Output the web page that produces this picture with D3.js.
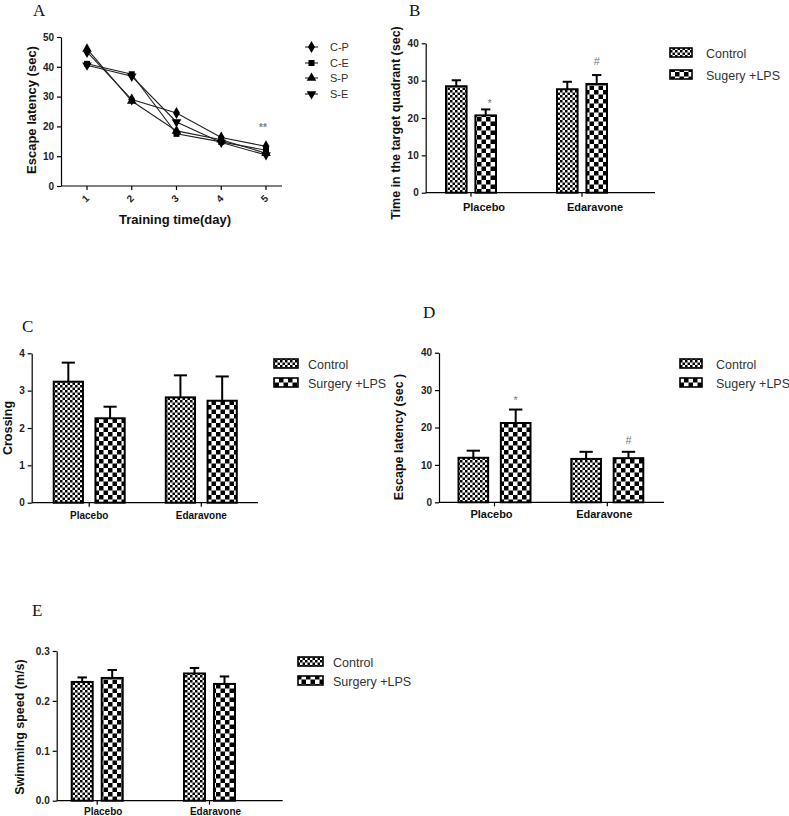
<!DOCTYPE html>
<html><head><meta charset="utf-8">
<script src="https://cdn.jsdelivr.net/npm/d3@7"></script>
<style>body{margin:0;background:#fff;} svg{display:block;}</style>
</head><body>
<svg id="c" width="789" height="816"></svg>
<script>
// ---------- Panel A data ----------
const days = [1, 2, 3, 4, 5];
const aYTicks = [0, 10, 20, 30, 40, 50];
const seriesA = ["C-P", "C-E", "S-P", "S-E"];
const cpVals = [45, 29, 24.5, 16.3, 13.3];
const ceVals = [41, 37.5, 17.5, 14.8, 12];
const spVals = [46, 28.5, 18.5, 15.5, 11];
const seVals = [40.5, 36.8, 21.5, 14.6, 10.4];

// ---------- Bar panels data ----------
const groups = ["Placebo", "Edaravone"];
const barSeries = ["Control", "Surgery"];

const bTicks = [0, 10, 20, 30, 40];
const bControl = [28.5, 27.7];
const bSurgery = [20.7, 29.1];
const bControlErr = [30.1, 29.7];
const bSurgeryErr = [22.3, 31.5];

const cTicks = [0, 1, 2, 3, 4];
const cControl = [3.24, 2.82];
const cSurgery = [2.26, 2.73];
const cControlErr = [3.75, 3.41];
const cSurgeryErr = [2.57, 3.38];

const dTicks = [0, 10, 20, 30, 40];
const dControl = [11.9, 11.6];
const dSurgery = [21.2, 11.8];
const dControlErr = [13.8, 13.5];
const dSurgeryErr = [24.8, 13.5];

const eTicks = [0, 0.1, 0.2, 0.3];
const eControl = [0.238, 0.255];
const eSurgery = [0.246, 0.234];
const eControlErr = [0.247, 0.266];
const eSurgeryErr = [0.262, 0.249];

const svg = d3.select("#c");
const FONT = "Liberation Sans, Arial, sans-serif";
const SERIF = "Liberation Serif, Times New Roman, serif";

// patterns
const defs = svg.append("defs");
function checker(id, cell) {
  const p = defs.append("pattern").attr("id", id).attr("patternUnits", "userSpaceOnUse")
    .attr("width", cell * 2).attr("height", cell * 2);
  p.append("rect").attr("width", cell * 2).attr("height", cell * 2).attr("fill", "#fff");
  p.append("rect").attr("width", cell).attr("height", cell).attr("fill", "#000");
  p.append("rect").attr("x", cell).attr("y", cell).attr("width", cell).attr("height", cell).attr("fill", "#000");
}
checker("fine", 2.5);
checker("coarse", 4.5);
const fills = ["url(#fine)", "url(#coarse)"];

function letter(t, x, y) {
  svg.append("text").attr("x", x).attr("y", y).attr("font-family", SERIF)
    .attr("font-size", 17).attr("fill", "#111").text(t);
}
function yLabel(t, x, y, size) {
  svg.append("text").attr("transform", `translate(${x},${y}) rotate(-90)`)
    .attr("text-anchor", "middle").attr("font-family", FONT).attr("font-weight", "bold")
    .attr("font-size", size).attr("fill", "#111").text(t);
}
function styleAxis(g) {
  g.select(".domain").attr("stroke", "#000").attr("stroke-width", 1.2);
  g.selectAll(".tick line").attr("stroke", "#000").attr("stroke-width", 1.2);
  g.selectAll(".tick text").attr("font-family", FONT).attr("font-weight", "bold")
    .attr("font-size", 10).attr("fill", "#222");
}

// ---------- Panel A ----------
(function () {
  const x = d3.scaleLinear().domain([1, 5]).range([87, 266]);
  const y = d3.scaleLinear().domain([0, 50]).range([186, 37]);
  const gy = svg.append("g").attr("transform", "translate(61,0)")
    .call(d3.axisLeft(y).tickValues(aYTicks).tickSize(4).tickSizeOuter(0).tickPadding(3));
  styleAxis(gy);
  svg.append("line").attr("x1", 61).attr("x2", 282).attr("y1", 186).attr("y2", 186)
    .attr("stroke", "#000").attr("stroke-width", 1.2);
  const gx = svg.append("g");
  days.forEach(d => {
    gx.append("line").attr("x1", x(d)).attr("x2", x(d)).attr("y1", 186).attr("y2", 190)
      .attr("stroke", "#000").attr("stroke-width", 1.2);
    gx.append("text").attr("transform", `translate(${x(d) + 1},${201}) rotate(-45)`)
      .attr("text-anchor", "middle").attr("font-family", FONT).attr("font-weight", "bold")
      .attr("font-size", 10).attr("fill", "#222").text(d);
  });
  const vals = [cpVals, ceVals, spVals, seVals];
  const syms = [d3.symbolDiamond, d3.symbolSquare, d3.symbolTriangle, d3.symbolTriangle];
  const rots = [0, 0, 0, 180];
  const sizes = [42, 36, 40, 40];
  const line = d3.line().x((v, i) => x(days[i])).y(v => y(v));
  vals.forEach((vs, k) => {
    svg.append("path").attr("d", line(vs)).attr("fill", "none").attr("stroke", "#222").attr("stroke-width", 1.1);
  });
  vals.forEach((vs, k) => {
    vs.forEach((v, i) => {
      svg.append("path").attr("d", d3.symbol().type(syms[k]).size(sizes[k])())
        .attr("transform", `translate(${x(days[i])},${y(v)}) rotate(${rots[k]})`).attr("fill", "#000");
    });
  });
  svg.append("text").attr("x", x(5) - 3).attr("y", y(20) + 5).attr("text-anchor", "middle")
    .attr("font-family", FONT).attr("font-size", 10).attr("font-weight", "bold").attr("fill", "#8a8070").text("**");
  // legend
  const ly = [47, 63, 78, 94];
  seriesA.forEach((s, k) => {
    svg.append("line").attr("x1", 305).attr("x2", 318).attr("y1", ly[k]).attr("y2", ly[k]).attr("stroke", "#222").attr("stroke-width", 1.1);
    svg.append("path").attr("d", d3.symbol().type(syms[k]).size(sizes[k])())
      .attr("transform", `translate(311.5,${ly[k]}) rotate(${rots[k]})`).attr("fill", "#000");
    svg.append("text").attr("x", 330).attr("y", ly[k] + 4).attr("font-family", FONT)
      .attr("font-size", 11).attr("fill", "#333").text(s);
  });
  yLabel("Escape latency  (sec)", 36, 110, 13);
  svg.append("text").attr("x", 175).attr("y", 224).attr("text-anchor", "middle").attr("font-family", FONT)
    .attr("font-weight", "bold").attr("font-size", 13).attr("fill", "#111").text("Training time(day)");
  letter("A", 33, 16);
})();

// ---------- Bar panels ----------
function barPanel(o) {
  const y = d3.scaleLinear().domain([0, o.max]).range([o.y0, o.yTop]);
  const xg = d3.scalePoint().domain(groups).range(o.centers);
  const xi = d3.scaleBand().domain(barSeries).range([-o.half, o.half]).paddingInner(0.3);
  const gy = svg.append("g").attr("transform", `translate(${o.x0},0)`)
    .call(d3.axisLeft(y).tickValues(o.ticks).tickSize(4).tickSizeOuter(0).tickPadding(3).tickFormat(o.fmt));
  styleAxis(gy);
  svg.append("line").attr("x1", o.x0).attr("x2", o.xEnd).attr("y1", o.y0).attr("y2", o.y0)
    .attr("stroke", "#000").attr("stroke-width", 1.2);
  groups.forEach(g => {
    svg.append("line").attr("x1", xg(g)).attr("x2", xg(g)).attr("y1", o.y0).attr("y2", o.y0 + 4)
      .attr("stroke", "#000").attr("stroke-width", 1.2);
    svg.append("text").attr("x", xg(g) + o.labelDx).attr("y", o.y0 + o.labelDy).attr("text-anchor", "middle")
      .attr("font-family", FONT).attr("font-weight", "bold").attr("font-size", o.catSize).attr("fill", "#111").text(g);
  });
  const means = [o.ctrl, o.surg], errs = [o.ctrlErr, o.surgErr];
  const bw = xi.bandwidth();
  const cap = bw * 0.45;
  barSeries.forEach((s, k) => {
    groups.forEach((g, i) => {
      const bx = xg(g) + xi(s);
      const cx = bx + bw / 2;
      svg.append("line").attr("x1", cx).attr("x2", cx).attr("y1", y(means[k][i])).attr("y2", y(errs[k][i]))
        .attr("stroke", "#000").attr("stroke-width", 2);
      svg.append("line").attr("x1", cx - cap / 2).attr("x2", cx + cap / 2).attr("y1", y(errs[k][i])).attr("y2", y(errs[k][i]))
        .attr("stroke", "#000").attr("stroke-width", 2);
      svg.append("rect").attr("x", bx).attr("y", y(means[k][i])).attr("width", bw)
        .attr("height", o.y0 - y(means[k][i])).attr("fill", fills[k]).attr("stroke", "#000").attr("stroke-width", 2);
    });
  });
  (o.marks || []).forEach(m => {
    const cx = xg(groups[m.g]) + xi(barSeries[m.s]) + bw / 2;
    svg.append("text").attr("x", cx + (m.dx || 0)).attr("y", y(errs[m.s][m.g]) - m.up).attr("text-anchor", "middle")
      .attr("font-family", FONT).attr("font-size", 11).attr("fill", "#777").text(m.t);
  });
  // legend
  o.legendNames.forEach((n, k) => {
    const ly = o.legY[k];
    svg.append("rect").attr("x", o.legX).attr("y", ly - 5).attr("width", o.legW).attr("height", 9)
      .attr("fill", fills[k]).attr("stroke", "#000").attr("stroke-width", 1.6);
    svg.append("text").attr("x", o.legTx).attr("y", ly + 4.5).attr("font-family", FONT)
      .attr("font-size", 12.5).attr("fill", "#333").text(n);
  });
  yLabel(o.ylab, o.ylx, o.yly, o.ylSize);
  letter(o.letter, o.lx, o.ly);
}

barPanel({
  x0: 425.7, xEnd: 655, y0: 192.7, yTop: 43.3, max: 40, ticks: bTicks, fmt: d3.format("d"),
  centers: [471, 582], half: 25, ctrl: bControl, surg: bSurgery, ctrlErr: bControlErr, surgErr: bSurgeryErr,
  labelDx: 13, labelDy: 18, catSize: 11,
  marks: [{ g: 0, s: 1, t: "*", up: 2, dx: 4 }, { g: 1, s: 1, t: "#", up: 10 }],
  legendNames: ["Control", "Sugery +LPS"], legX: 670, legW: 22, legY: [53, 75], legTx: 706,
  ylab: "Time in the target quadrant  (sec)", ylx: 400, yly: 123, ylSize: 12.5, letter: "B", lx: 409, ly: 16
});

barPanel({
  x0: 31.7, xEnd: 258, y0: 502.7, yTop: 353.3, max: 4, ticks: cTicks, fmt: d3.format("d"),
  centers: [89.2, 201.3], half: 35.5, ctrl: cControl, surg: cSurgery, ctrlErr: cControlErr, surgErr: cSurgeryErr,
  labelDx: 0, labelDy: 16, catSize: 10,
  marks: [],
  legendNames: ["Control", "Surgery +LPS"], legX: 274, legW: 24, legY: [364, 383], legTx: 308,
  ylab: "Crossing", ylx: 12, yly: 428, ylSize: 12.5, letter: "C", lx: 22, ly: 332
});

barPanel({
  x0: 439, xEnd: 664, y0: 502.3, yTop: 352.7, max: 40, ticks: dTicks, fmt: d3.format("d"),
  centers: [494.5, 607.3], half: 36, ctrl: dControl, surg: dSurgery, ctrlErr: dControlErr, surgErr: dSurgeryErr,
  labelDx: -3, labelDy: 16, catSize: 11,
  marks: [{ g: 0, s: 1, t: "*", up: 6 }, { g: 1, s: 1, t: "#", up: 8 }],
  legendNames: ["Control", "Sugery +LPS"], legX: 680, legW: 22, legY: [364, 383], legTx: 716,
  ylab: "Escape latency  (sec )", ylx: 403, yly: 437, ylSize: 12.5, letter: "D", lx: 423, ly: 318
});

barPanel({
  x0: 56.7, xEnd: 282.7, y0: 800.7, yTop: 651, max: 0.3, ticks: eTicks, fmt: d3.format(".1f"),
  centers: [97.2, 209.5], half: 25.5, ctrl: eControl, surg: eSurgery, ctrlErr: eControlErr, surgErr: eSurgeryErr,
  labelDx: 6, labelDy: 14, catSize: 10,
  marks: [],
  legendNames: ["Control", "Surgery +LPS"], legX: 298, legW: 25, legY: [662, 681], legTx: 333,
  ylab: "Swimming speed  (m/s)", ylx: 24, yly: 727, ylSize: 12.5, letter: "E", lx: 32, ly: 616
});
</script>
</body></html>
